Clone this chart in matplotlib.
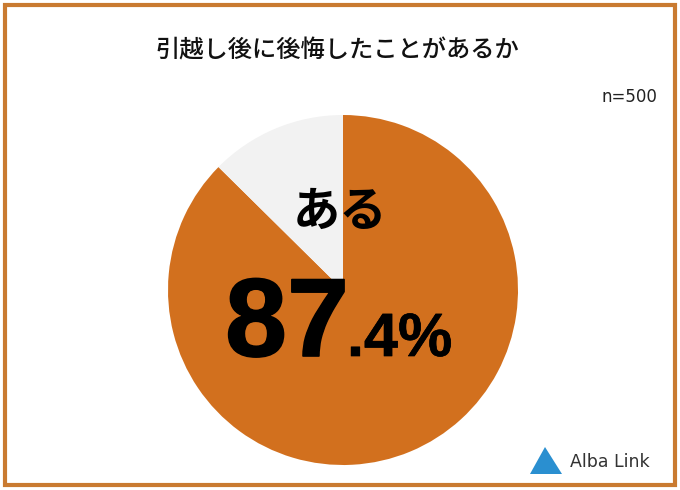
import matplotlib
matplotlib.use("Agg")
import matplotlib.pyplot as plt
import matplotlib.patheffects as pe
from matplotlib.patches import Rectangle, Polygon

plt.rcParams['font.family'] = ['Noto Sans CJK JP', 'DejaVu Sans']

title = "引越し後に後悔したことがあるか"
labels = ["ある", "ない"]
values = [87.4, 12.6]
colors = ["#D2701E", "#F2F2F2"]
sample = "n=500"

W, H = 680, 490
fig = plt.figure(figsize=(W/100, H/100), dpi=100)
fig.patch.set_facecolor("white")

# frame
fig.patches.append(Rectangle((5/W, 5/H), 670/W, 480/H, transform=fig.transFigure,
                             fill=False, edgecolor="#C97A30", linewidth=3))

fig.text(337/W, 1-50/H, title, ha="center", va="center", fontsize=17.5,
         fontweight="medium", color="#111111")
fig.text(657/W, 1-97/H, sample, ha="right", va="center", fontsize=12,
         family=["DejaVu Sans"], color="#222222")

cx, cy, r = 343, 290, 175
ax = fig.add_axes([(cx-r)/W, (H-cy-r)/H, 2*r/W, 2*r/H])
ax.pie(values, colors=colors, startangle=90, counterclock=False,
       wedgeprops=dict(linewidth=0))
ax.set_xlim(-1, 1); ax.set_ylim(-1, 1)
ax.set_aspect("equal")
ax.axis("off")

fig.text(340/W, 1-212/H, labels[0], ha="center", va="center", fontsize=34,
         fontweight="bold", color="black")
whole, frac = f"{values[0]:.1f}".split(".")
big = [pe.withStroke(linewidth=1.2, foreground="black")]
small = [pe.withStroke(linewidth=0.5, foreground="black")]
fig.text(256/W, 1-356/H, whole[0], ha="center", va="baseline", fontsize=80,
         fontweight="bold", family=["Liberation Sans"], color="black", path_effects=big)
fig.text(318/W, 1-356/H, whole[1], ha="center", va="baseline", fontsize=80,
         fontweight="bold", family=["Liberation Sans"], color="black", path_effects=big)
fig.text(347/W, 1-356/H, "." + frac + "%", ha="left", va="baseline", fontsize=44,
         fontweight="bold", family=["Liberation Sans"], color="black", path_effects=small)

# logo
fig.patches.append(Polygon([(530/W, 1-474/H), (545/W, 1-447/H), (562/W, 1-474/H)],
                           closed=True, transform=fig.transFigure,
                           facecolor="#2A8FD0", edgecolor="none"))
fig.text(570/W, 1-462/H, "Alba Link", ha="left", va="center", fontsize=12.5,
         family=["DejaVu Sans"], color="#333333")

fig.savefig("out.png", dpi=100, facecolor="white")
